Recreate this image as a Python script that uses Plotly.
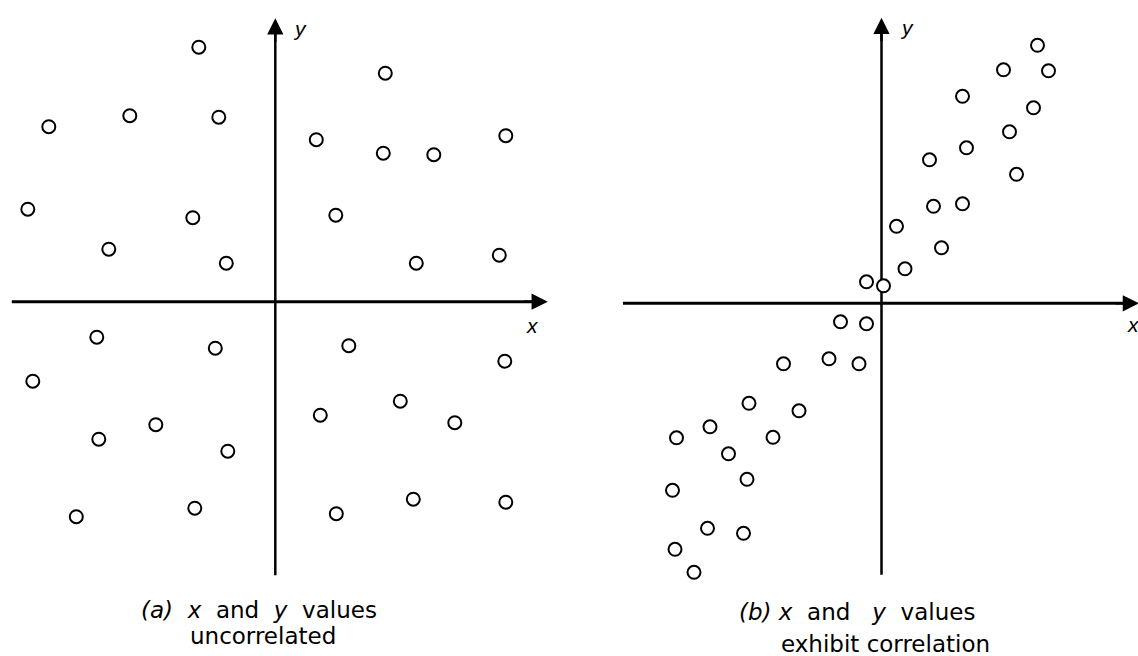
import plotly.graph_objects as go

# Panel (a): uncorrelated
a_x = [-1.53, -4.53, -2.91, -1.13, -4.95, -1.65, -3.33, -0.98,
       2.20, 0.82, 2.16, 3.17, 4.61, 1.21, 2.82, 4.48,
       -3.57, -1.20, -4.85, -2.39, -3.53, -0.95, -3.98, -1.61,
       1.47, 4.59, 0.90, 2.50, 3.59, 1.22, 2.76, 4.61]
a_y = [5.09, 3.50, 3.72, 3.69, 1.85, 1.68, 1.05, 0.77,
       4.57, 3.24, 2.97, 2.94, 3.32, 1.73, 0.77, 0.93,
       -0.71, -0.93, -1.59, -2.46, -2.75, -2.99, -4.30, -4.13,
       -0.88, -1.19, -2.27, -1.99, -2.42, -4.24, -3.95, -4.01]

# Panel (b): correlated
b_x = [3.12, 2.44, 3.34, 1.62, 3.04, 2.56, 1.70, 0.96, 2.70, 1.04, 1.62,
       0.30, 1.20, 0.47, -0.30, 0.04, -0.82, -0.30, -1.96, -1.05, -0.45,
       -2.65, -1.65, -3.43, -4.10, -2.17, -3.06, -2.69, -4.18, -3.48, -2.76,
       -4.13, -3.75]
b_y = [5.16, 4.67, 4.65, 4.14, 3.91, 3.43, 3.11, 2.87, 2.58, 1.94, 1.99,
       1.54, 1.11, 0.69, 0.43, 0.35, -0.37, -0.41, -1.21, -1.11, -1.21,
       -2.00, -2.15, -2.47, -2.69, -2.68, -3.01, -3.52, -3.74, -4.50, -4.60,
       -4.92, -5.38]

caption_a = ["<i>(a)</i>  <i>x</i>  and  <i>y</i>  values", "uncorrelated"]
caption_b = ["<i>(b)</i> <i>x</i>  and   <i>y</i>  values", "exhibit correlation"]

W, H = 1138, 656
fig = go.Figure()
marker = dict(symbol="circle", size=13, color="white", line=dict(color="black", width=2))
fig.add_trace(go.Scatter(x=a_x, y=a_y, mode="markers", marker=marker, xaxis="x", yaxis="y",
                         hoverinfo="skip", showlegend=False))
fig.add_trace(go.Scatter(x=b_x, y=b_y, mode="markers", marker=marker, xaxis="x2", yaxis="y2",
                         hoverinfo="skip", showlegend=False))

ax_common = dict(visible=False, showgrid=False, zeroline=False, fixedrange=True)
fig.update_layout(
    width=W, height=H, margin=dict(l=0, r=0, t=0, b=0),
    paper_bgcolor="white", plot_bgcolor="rgba(0,0,0,0)",
    xaxis=dict(domain=[0, 570 / W], range=[-5.506, 5.894], **ax_common),
    yaxis=dict(domain=[0, 1], range=[-7.086, 6.034], **ax_common),
    xaxis2=dict(domain=[580 / W, 1], range=[-6.03, 5.13], **ax_common),
    yaxis2=dict(domain=[0, 1], range=[-7.054, 6.066], anchor="x2", **ax_common),
    font=dict(family="Liberation Sans, Arial, sans-serif", color="black"),
)

shapes = []
annotations = []


def axes_for(xr, yr, xlen, ylen, xlab, ylab):
    xl, xt = xlen
    yb, yt = ylen
    shapes.append(dict(type="line", xref=xr, yref=yr, x0=xl, x1=xt - 0.2, y0=0, y1=0,
                       line=dict(color="black", width=3), layer="below"))
    shapes.append(dict(type="line", xref=xr, yref=yr, x0=0, x1=0, y0=yb, y1=yt - 0.2,
                       line=dict(color="black", width=2.5), layer="below"))
    annotations.append(dict(xref=xr, yref=yr, axref=xr, ayref=yr, x=xt, y=0, ax=xt - 0.5, ay=0,
                            text="", showarrow=True, arrowhead=2, arrowsize=1.3, arrowwidth=2.5,
                            arrowcolor="black", standoff=0))
    annotations.append(dict(xref=xr, yref=yr, axref=xr, ayref=yr, x=0, y=yt, ax=0, ay=yt - 0.5,
                            text="", showarrow=True, arrowhead=2, arrowsize=1.3, arrowwidth=2.5,
                            arrowcolor="black", standoff=0))
    annotations.append(dict(xref=xr, yref=yr, x=xlab[0], y=xlab[1], text="<i>x</i>", showarrow=False,
                            font=dict(size=21)))
    annotations.append(dict(xref=xr, yref=yr, x=ylab[0], y=ylab[1], text="<i>y</i>", showarrow=False,
                            font=dict(size=21)))


axes_for("x", "y", (-5.27, 5.45), (-5.47, 5.67), (5.15, -0.47), (0.49, 5.47))
axes_for("x2", "y2", (-5.17, 5.15), (-5.43, 5.71), (5.03, -0.43), (0.51, 5.51))

cap_font = dict(family="DejaVu Sans, sans-serif", size=23, color="black")
annotations.append(dict(xref="paper", yref="paper", x=259 / W, y=1 - 610 / H, text=caption_a[0],
                        showarrow=False, font=cap_font, xanchor="center", yanchor="middle"))
annotations.append(dict(xref="paper", yref="paper", x=263 / W, y=1 - 636 / H, text=caption_a[1],
                        showarrow=False, font=cap_font, xanchor="center", yanchor="middle"))
annotations.append(dict(xref="paper", yref="paper", x=857 / W, y=1 - 612 / H, text=caption_b[0],
                        showarrow=False, font=cap_font, xanchor="center", yanchor="middle"))
annotations.append(dict(xref="paper", yref="paper", x=885 / W, y=1 - 644 / H, text=caption_b[1],
                        showarrow=False, font=cap_font, xanchor="center", yanchor="middle"))

fig.update_layout(shapes=shapes, annotations=annotations)
fig.write_html("out.html")
